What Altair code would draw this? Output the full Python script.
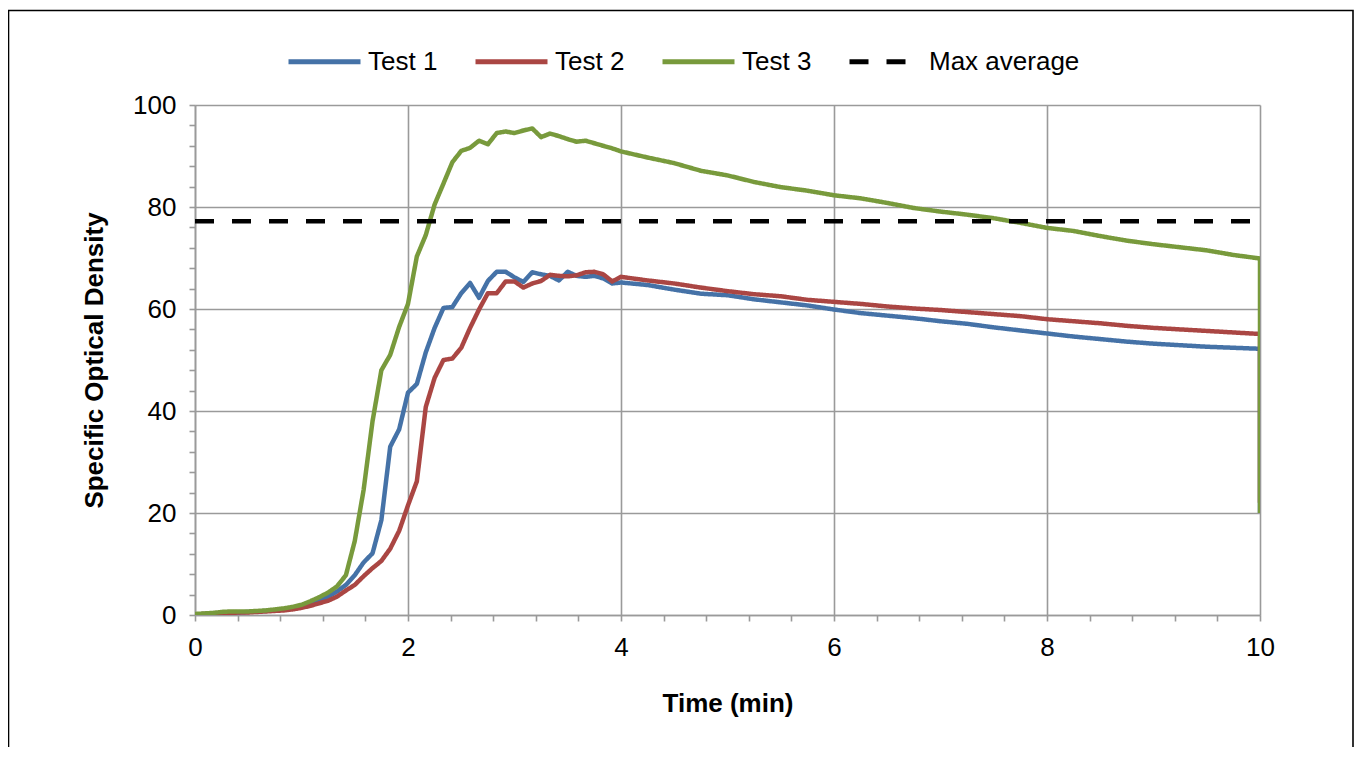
import altair as alt
import pandas as pd

times = [0, 0.083, 0.167, 0.25, 0.333, 0.417, 0.5, 0.583, 0.667, 0.75, 0.833, 0.917, 1.0,
         1.083, 1.167, 1.25, 1.333, 1.417, 1.5, 1.583, 1.667, 1.75, 1.833, 1.917, 2.0,
         2.083, 2.167, 2.25, 2.333, 2.417, 2.5, 2.583, 2.667, 2.75, 2.833, 2.917, 3.0,
         3.083, 3.167, 3.25, 3.333, 3.417, 3.5, 3.583, 3.667, 3.75, 3.833, 3.917, 4.0,
         4.25, 4.5, 4.75, 5.0, 5.25, 5.5, 5.75, 6.0, 6.25, 6.5, 6.75, 7.0, 7.25, 7.5, 7.75,
         8.0, 8.25, 8.5, 8.75, 9.0, 9.25, 9.5, 9.75, 10.0, 10.0]

test1 = [0.1, 0.2, 0.3, 0.4, 0.5, 0.5, 0.6, 0.7, 0.8, 0.9, 1.1, 1.4, 1.7,
         2.2, 2.9, 3.6, 4.6, 5.9, 7.8, 10.3, 12.1, 18.6, 33.0, 36.4, 43.6,
         45.3, 51.5, 56.3, 60.2, 60.4, 63.1, 65.1, 62.2, 65.5, 67.3, 67.3, 66.2,
         65.3, 67.2, 66.8, 66.5, 65.6, 67.3, 66.5, 66.3, 66.5, 66.0, 65.0, 65.2,
         64.7, 63.8, 63.0, 62.7, 61.9, 61.3, 60.7, 59.9, 59.2, 58.7, 58.2, 57.6, 57.1, 56.4, 55.8,
         55.2, 54.6, 54.1, 53.6, 53.2, 52.9, 52.6, 52.4, 52.2, 20.0]

test2 = [0.1, 0.2, 0.3, 0.4, 0.4, 0.5, 0.5, 0.6, 0.7, 0.8, 0.9, 1.1, 1.4,
         1.8, 2.3, 2.8, 3.6, 4.8, 5.9, 7.6, 9.2, 10.6, 13.0, 16.5, 21.5,
         26.2, 40.8, 46.5, 50.0, 50.3, 52.4, 56.3, 59.9, 63.1, 63.1, 65.4, 65.4,
         64.2, 65.0, 65.5, 66.7, 66.5, 66.4, 66.6, 67.2, 67.3, 66.8, 65.4, 66.3,
         65.6, 65.0, 64.2, 63.5, 62.9, 62.5, 61.8, 61.4, 61.0, 60.5, 60.1, 59.8, 59.4, 59.0, 58.6,
         58.0, 57.6, 57.2, 56.7, 56.3, 56.0, 55.7, 55.4, 55.1, 22.0]

test3 = [0.2, 0.3, 0.4, 0.6, 0.7, 0.7, 0.7, 0.8, 0.9, 1.1, 1.3, 1.6, 2.0,
         2.7, 3.5, 4.4, 5.6, 7.8, 14.5, 24.5, 38.0, 48.0, 51.0, 56.5, 61.0,
         70.3, 74.5, 80.5, 84.6, 88.8, 91.0, 91.6, 93.0, 92.3, 94.5, 94.8, 94.5,
         95.0, 95.4, 93.7, 94.4, 93.9, 93.3, 92.8, 93.0, 92.5, 92.0, 91.5, 90.9,
         89.7, 88.6, 87.1, 86.2, 84.9, 83.9, 83.2, 82.3, 81.7, 80.8, 79.8, 79.1, 78.5, 77.8, 76.9,
         75.9, 75.3, 74.3, 73.4, 72.7, 72.1, 71.5, 70.6, 69.9, 20.0]

max_avg_times = [0, 10]
max_avg_values = [77.2, 77.2]

series_names = ["Test 1", "Test 2", "Test 3", "Max average"]
series_colors = ["#4572A7", "#AA4643", "#789A3C", "#000000"]
series_dash = [[1, 0], [1, 0], [1, 0], [19, 18]]

x_ticks = [0, 0.4, 0.8, 1.2, 1.6, 2, 2.4, 2.8, 3.2, 3.6, 4, 4.4, 4.8, 5.2, 5.6, 6,
           6.4, 6.8, 7.2, 7.6, 8, 8.4, 8.8, 9.2, 9.6, 10]
y_ticks = [0, 4, 8, 12, 16, 20, 24, 28, 32, 36, 40, 44, 48, 52, 56, 60, 64, 68, 72,
           76, 80, 84, 88, 92, 96, 100]

rows = []
for name, vals in [("Test 1", test1), ("Test 2", test2), ("Test 3", test3)]:
    for i, (t, v) in enumerate(zip(times, vals)):
        rows.append({"series": name, "t": t, "v": v, "idx": i})
for i, (t, v) in enumerate(zip(max_avg_times, max_avg_values)):
    rows.append({"series": "Max average", "t": t, "v": v, "idx": i})
df = pd.DataFrame(rows)

FONT = "Liberation Sans"
GRID = "#9a9a9a"
FS = 26

x_major = "abs(datum.value/2 - round(datum.value/2)) < 0.001"
y_major = "abs(datum.value/20 - round(datum.value/20)) < 0.001"


def make_legend():
    return alt.Legend(title=None, orient="none", direction="horizontal",
                      legendX=91, legendY=-82, symbolType="stroke",
                      symbolSize=5184, symbolStrokeWidth=5,
                      labelFontSize=FS, labelFont=FONT, labelColor="#000",
                      labelOffset=5, columnPadding=27, padding=0)


lines = alt.Chart(df).mark_line(strokeWidth=4.5, strokeJoin="round", strokeCap="butt", clip=True).encode(
    x=alt.X("t:Q", scale=alt.Scale(domain=[0, 10], nice=False),
            axis=alt.Axis(values=x_ticks, title="Time (min)", labelFlush=False,
                          labelExpr=f"({x_major}) ? format(datum.value, 'd') : ''",
                          grid=True,
                          gridColor={"condition": {"test": x_major, "value": GRID}, "value": "transparent"},
                          titlePadding=30)),
    y=alt.Y("v:Q", scale=alt.Scale(domain=[0, 100], nice=False),
            axis=alt.Axis(values=y_ticks, title="Specific Optical Density", labelFlush=False,
                          labelExpr=f"({y_major}) ? format(datum.value, 'd') : ''",
                          grid=True,
                          gridColor={"condition": {"test": y_major, "value": GRID}, "value": "transparent"},
                          titlePadding=25)),
    color=alt.Color("series:N", scale=alt.Scale(domain=series_names, range=series_colors),
                    legend=make_legend()),
    strokeDash=alt.StrokeDash("series:N", scale=alt.Scale(domain=series_names, range=series_dash),
                              legend=make_legend()),
    order=alt.Order("idx:Q"),
)

frame = alt.Chart(pd.DataFrame({"a": [0]})).mark_rect(fill=None, stroke="#000", strokeWidth=1.6).encode(
    x=alt.value(-186.5), x2=alt.value(1158), y=alt.value(-94.5), y2=alt.value(700)
)

chart = alt.layer(frame, lines).properties(
    width=1065, height=510,
    autosize=alt.AutoSizeParams(type="none"),
    padding={"left": 187, "top": 97, "right": 94, "bottom": 132},
).configure_axis(
    domainColor=GRID, domainWidth=1.6, tickColor=GRID, tickWidth=1.6, tickSize=6,
    gridWidth=1.6, labelFont=FONT, labelFontSize=FS, labelColor="#000", labelPadding=13,
    titleFont=FONT, titleFontSize=FS, titleFontWeight="bold", titleColor="#000",
).configure_view(stroke=None)

chart.save("out.html", embed_options={"renderer": "svg", "actions": False})
